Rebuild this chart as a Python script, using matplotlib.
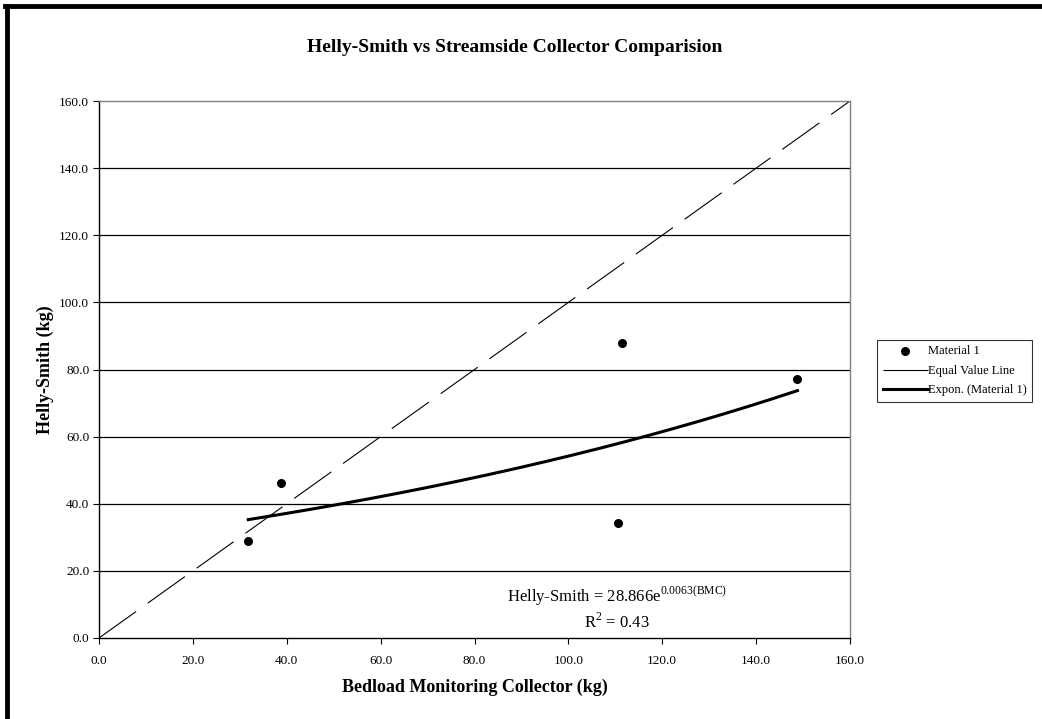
import numpy as np
import matplotlib.pyplot as plt
from matplotlib.lines import Line2D

plt.rcParams['font.family'] = ['Liberation Serif', 'DejaVu Serif']
plt.rcParams['mathtext.fontset'] = 'custom'
plt.rcParams['mathtext.rm'] = 'Liberation Serif'

# Datos medidos (kg)
bmc = [31.8, 38.8, 111.4, 110.5, 148.8]
helly_smith = [28.9, 46.3, 88.0, 34.2, 77.1]

# Línea de igual valor
equal_x = [0.0, 160.0]
equal_y = [0.0, 160.0]

# Ajuste exponencial: HS = a * exp(b * BMC)
fit_a = 28.866
fit_b = 0.0063
fit_r2 = 0.43

ticks = [0, 20, 40, 60, 80, 100, 120, 140, 160]
tick_labels = [f"{t:.1f}" for t in ticks]

fig = plt.figure(figsize=(10.42, 7.19), dpi=100)
ax = fig.add_axes([99 / 1042, 1 - 638 / 719, 751 / 1042, 537 / 719])

# Marco de la figura (arriba e izquierda)
fig.add_artist(Line2D([7 / 1042, 7 / 1042], [0, 1 - 6 / 719], color='black', lw=3.5,
                      transform=fig.transFigure))
fig.add_artist(Line2D([5 / 1042, 1], [1 - 6 / 719, 1 - 6 / 719], color='black', lw=3.5,
                      transform=fig.transFigure))

for t in ticks[1:-1]:
    ax.axhline(t, color='black', lw=0.9, zorder=1)

ax.plot(equal_x, equal_y, color='black', lw=0.8, dashes=(41, 13), label='Equal Value Line', zorder=2)

x_fit = np.linspace(min(bmc), max(bmc), 200)
ax.plot(x_fit, fit_a * np.exp(fit_b * x_fit), color='black', lw=2.2, label='Expon. (Material 1)', zorder=3)

ax.scatter(bmc, helly_smith, s=30, color='black', label='Material 1', zorder=4)

ax.set_xlim(0, 160)
ax.set_ylim(0, 160)
ax.set_xticks(ticks)
ax.set_yticks(ticks)
ax.set_xticklabels(tick_labels, fontsize=9.5)
ax.set_yticklabels(tick_labels, fontsize=9.5)
ax.tick_params(axis='x', direction='out', length=4, width=0.8, pad=8)
ax.tick_params(axis='y', direction='out', length=4, width=0.8, pad=3)

ax.spines['left'].set_color('black')
ax.spines['bottom'].set_color('black')
ax.spines['top'].set_color('#808080')
ax.spines['right'].set_color('#808080')
for s in ax.spines.values():
    s.set_linewidth(1.0)

ax.set_xlabel("Bedload Monitoring Collector (kg)", fontsize=13, fontweight='bold', labelpad=9)
ax.set_ylabel("Helly-Smith (kg)", fontsize=13, fontweight='bold', labelpad=4)
fig.text(515 / 1042, 1 - 47 / 719, "Helly-Smith vs Streamside Collector Comparision",
         ha='center', va='center', fontsize=14, fontweight='bold')

ax.text(110.4, 12.3, r"Helly-Smith = 28.866e$^{\mathrm{0.0063(BMC)}}$", ha='center', va='center',
        fontsize=12)
ax.text(110.4, 4.8, r"R$^{\mathrm{2}}$ = %.2f" % fit_r2, ha='center', va='center', fontsize=12)

handles, labels = ax.get_legend_handles_labels()
order = [2, 0, 1]
leg = fig.legend([handles[i] for i in order], [labels[i] for i in order],
                 loc='center left', bbox_to_anchor=(877 / 1042, 1 - 371 / 719),
                 fontsize=9, frameon=True, fancybox=False, edgecolor='black',
                 handlelength=3.6, handletextpad=0.0, borderpad=0.45, labelspacing=0.6,
                 borderaxespad=0.0)
leg.get_frame().set_linewidth(0.8)

fig.savefig("out.png", dpi=100)
